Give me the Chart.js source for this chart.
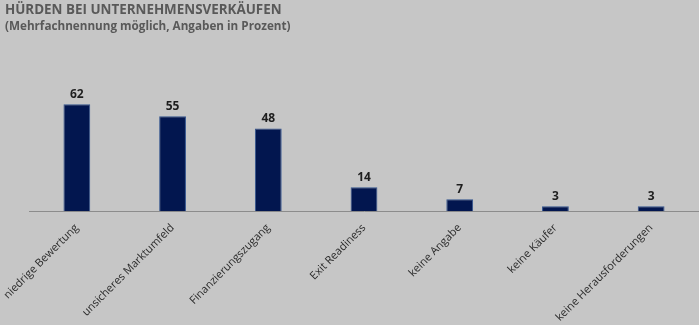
<!DOCTYPE html>
<html>
<head>
<meta charset="utf-8">
<script src="https://cdn.jsdelivr.net/npm/chart.js@4"></script>
<style>
  html, body { margin: 0; padding: 0; background: #c6c6c6; }
  #wrap { width: 699px; height: 325px; position: relative; }
  #wrap canvas { position: absolute; left: 0; top: 0; }
  .head { position: absolute; left: 5px; color: #595959; font-family: 'Open Sans', sans-serif; font-weight: bold; white-space: nowrap; line-height: 1; }
  #title { top: 3px; font-size: 13.4px; }
  #subtitle { top: 20px; font-size: 11.7px; }
</style>
</head>
<body>
<div id="wrap">
  <canvas id="c" width="699" height="325"></canvas>
  <div class="head" id="title"></div>
  <div class="head" id="subtitle"></div>
</div>
<script>
const categories = [
  "niedrige Bewertung",
  "unsicheres Marktumfeld",
  "Finanzierungszugang",
  "Exit Readiness",
  "keine Angabe",
  "keine Käufer",
  "keine Herausforderungen"
];
const shares = [62, 55, 48, 14, 7, 3, 3];
const titleText = "HÜRDEN BEI UNTERNEHMENSVERKÄUFEN";
const subtitleText = "(Mehrfachnennung möglich, Angaben in Prozent)";

document.getElementById("title").textContent = titleText;
document.getElementById("subtitle").textContent = subtitleText;

// Writes each bar's value just above it
const valueLabels = {
  id: "valueLabels",
  afterDatasetsDraw(chart) {
    const ctx = chart.ctx;
    const meta = chart.getDatasetMeta(0);
    ctx.save();
    ctx.font = "bold 12px 'Open Sans', sans-serif";
    ctx.fillStyle = "#1e1e1e";
    ctx.textAlign = "center";
    ctx.textBaseline = "bottom";
    meta.data.forEach((bar, i) => {
      ctx.fillText(String(shares[i]), bar.x, bar.y - 4);
    });
    ctx.restore();
  }
};

new Chart(document.getElementById("c"), {
  type: "bar",
  data: {
    labels: categories,
    datasets: [{
      data: shares,
      backgroundColor: "#02164f",
      borderColor: "#34558f",
      borderWidth: 1,
      barPercentage: 0.56,
      categoryPercentage: 0.5
    }]
  },
  options: {
    responsive: false,
    animation: false,
    layout: { padding: { left: 29, right: 0, top: 30, bottom: -1 } },
    plugins: {
      legend: { display: false },
      tooltip: { enabled: false }
    },
    scales: {
      x: {
        grid: { display: false },
        border: { display: true, color: "#8c8c8c", width: 1 },
        ticks: {
          color: "#2b2b2b",
          font: { family: "'Open Sans', sans-serif", size: 11 },
          minRotation: 45,
          maxRotation: 45,
          autoSkip: false,
          padding: 2
        }
      },
      y: {
        display: false,
        min: 0,
        max: 105
      }
    }
  },
  plugins: [valueLabels]
});
</script>
</body>
</html>
